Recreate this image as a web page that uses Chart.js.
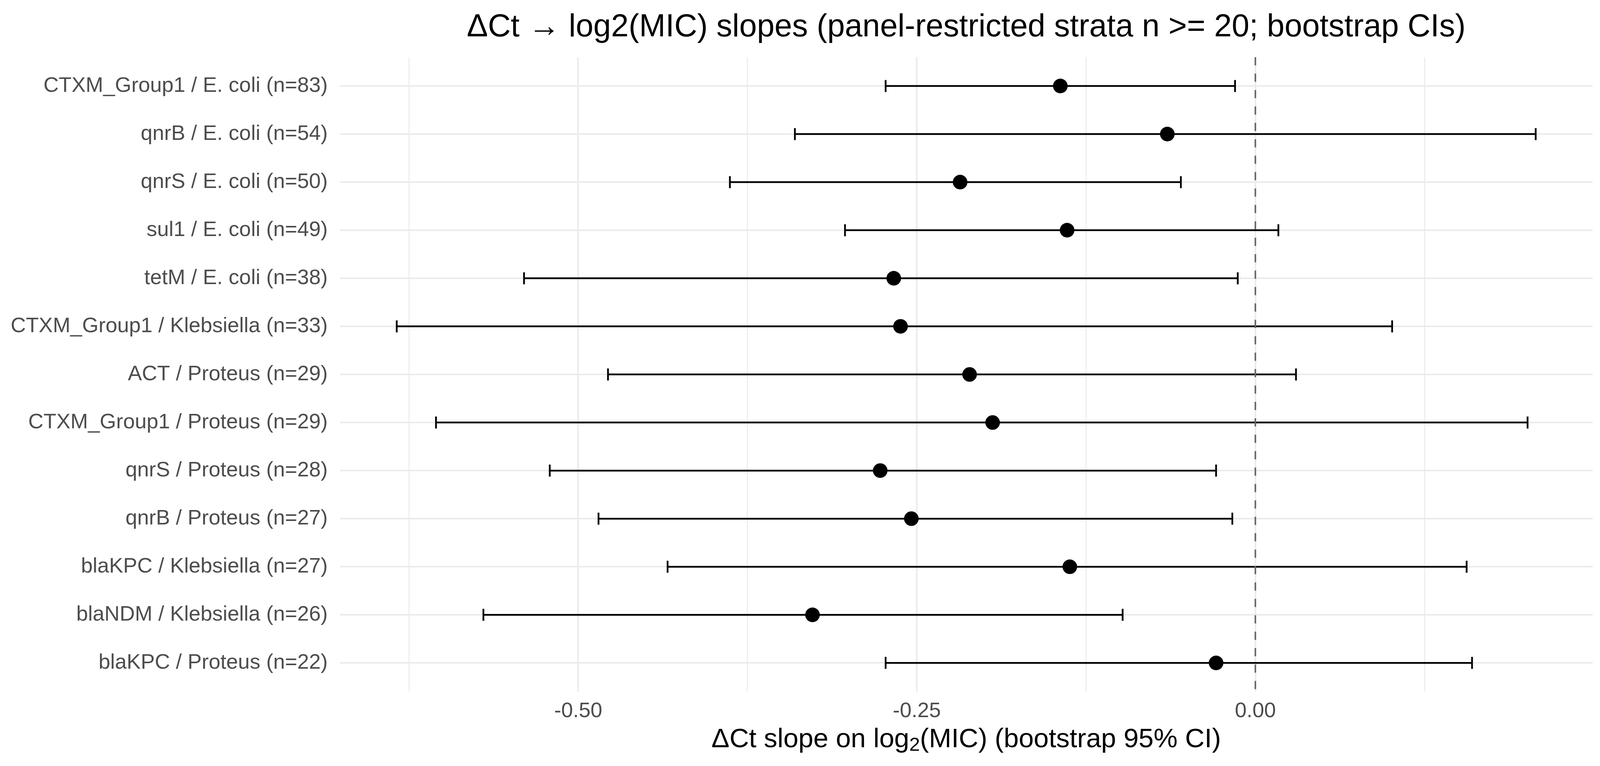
<!DOCTYPE html>
<html lang="en">
<head>
  <meta charset="UTF-8">
  <title>ΔCt → log2(MIC) slopes</title>
  <script src="https://cdn.jsdelivr.net/npm/chart.js"></script>
  <style>
    html, body { margin: 0; padding: 0; background: #fff; }
    #wrap { width: 4110px; height: 1960px; }
  </style>
</head>
<body>
  <div id="wrap"><canvas id="chart" width="4110" height="1960"></canvas></div>
  <script>
    // strata, top to bottom
    const strata = [
      'CTXM_Group1 / E. coli (n=83)',
      'qnrB / E. coli (n=54)',
      'qnrS / E. coli (n=50)',
      'sul1 / E. coli (n=49)',
      'tetM / E. coli (n=38)',
      'CTXM_Group1 / Klebsiella (n=33)',
      'ACT / Proteus (n=29)',
      'CTXM_Group1 / Proteus (n=29)',
      'qnrS / Proteus (n=28)',
      'qnrB / Proteus (n=27)',
      'blaKPC / Klebsiella (n=27)',
      'blaNDM / Klebsiella (n=26)',
      'blaKPC / Proteus (n=22)'
    ];
    const slope  = [-0.144, -0.065, -0.218, -0.139, -0.267, -0.262, -0.211, -0.194, -0.277, -0.254, -0.137, -0.327, -0.029];
    const ciLow  = [-0.273, -0.340, -0.388, -0.303, -0.540, -0.634, -0.478, -0.605, -0.521, -0.485, -0.434, -0.570, -0.273];
    const ciHigh = [-0.015,  0.207, -0.055,  0.017, -0.013,  0.101,  0.030,  0.201, -0.029, -0.017,  0.156, -0.098,  0.160];

    const xMajorTicks = [-0.5, -0.25, 0];
    const xMinorTicks = [-0.625, -0.375, -0.125, 0.125];
    const refLine = 0;

    const FONT = '"Liberation Sans", Arial, Helvetica, sans-serif';
    const GRID = '#ebebeb';

    const errorBars = {
      id: 'errorBars',
      beforeDatasetsDraw(chart) {
        const { ctx, chartArea, scales: { x, y } } = chart;
        const half = (y.getPixelForValue(1) - y.getPixelForValue(0)) * 0.125;
        ctx.save();
        ctx.strokeStyle = '#000';
        ctx.lineWidth = 4.5;
        ctx.lineCap = 'butt';
        strata.forEach((s, i) => {
          const py = y.getPixelForValue(i);
          const a = x.getPixelForValue(ciLow[i]);
          const b = x.getPixelForValue(ciHigh[i]);
          ctx.beginPath();
          ctx.moveTo(a, py); ctx.lineTo(b, py);
          ctx.moveTo(a, py - half); ctx.lineTo(a, py + half);
          ctx.moveTo(b, py - half); ctx.lineTo(b, py + half);
          ctx.stroke();
        });
        // dashed reference line at 0
        const x0 = x.getPixelForValue(refLine);
        ctx.strokeStyle = '#666';
        ctx.lineWidth = 4;
        ctx.setLineDash([21, 21]);
        ctx.beginPath();
        ctx.moveTo(x0, chartArea.top);
        ctx.lineTo(x0, chartArea.bottom);
        ctx.stroke();
        ctx.restore();
      }
    };

    // x-axis title with a real subscript, centred on the panel
    const xTitle = {
      id: 'xTitle',
      afterDraw(chart) {
        const { ctx, chartArea } = chart;
        const size = 69, sub = 49;
        const parts = [
          { t: 'ΔCt slope on log', f: size, dy: 0 },
          { t: '2', f: sub, dy: 14 },
          { t: '(MIC) (bootstrap 95% CI)', f: size, dy: 0 }
        ];
        ctx.save();
        ctx.fillStyle = '#000';
        ctx.textBaseline = 'middle';
        ctx.textAlign = 'left';
        let w = 0;
        parts.forEach(p => { ctx.font = p.f + 'px ' + FONT; p.w = ctx.measureText(p.t).width; w += p.w; });
        let x = (chartArea.left + chartArea.right) / 2 - w / 2;
        const y = 1893;
        parts.forEach(p => {
          ctx.font = p.f + 'px ' + FONT;
          ctx.fillText(p.t, x, y + p.dy);
          x += p.w;
        });
        ctx.restore();
      }
    };

    new Chart(document.getElementById('chart').getContext('2d'), {
      type: 'scatter',
      data: {
        datasets: [{
          data: strata.map((s, i) => ({ x: slope[i], y: i })),
          pointRadius: 18.7,
          pointHoverRadius: 18.7,
          backgroundColor: '#000',
          borderWidth: 0
        }]
      },
      options: {
        responsive: false,
        devicePixelRatio: 1,
        animation: false,
        events: [],
        layout: { padding: { left: 0, right: 33, top: 0, bottom: 0 } },
        plugins: {
          legend: { display: false },
          tooltip: { enabled: false },
          title: {
            display: true,
            fullSize: false,
            text: 'ΔCt → log2(MIC) slopes (panel-restricted strata n >= 20; bootstrap CIs)',
            color: '#000',
            font: { family: FONT, size: 81, weight: 'normal', lineHeight: 1.2 },
            padding: { top: 22, bottom: 27 }
          }
        },
        scales: {
          x: {
            type: 'linear',
            min: -0.676,
            max: 0.249,
            afterBuildTicks: s => {
              s.ticks = [...xMinorTicks, ...xMajorTicks].sort((a, b) => a - b).map(v => ({ value: v }));
            },
            afterFit: s => { s.height = 190; },
            border: { display: false },
            grid: {
              drawTicks: false,
              color: GRID,
              lineWidth: c => (c.tick && xMajorTicks.includes(c.tick.value)) ? 4 : 2.5
            },
            ticks: {
              padding: 18,
              color: '#4d4d4d',
              autoSkip: false,
              maxRotation: 0,
              font: { family: FONT, size: 54, lineHeight: 1.2 },
              callback: v => xMajorTicks.includes(v) ? v.toFixed(2) : ''
            },
            title: { display: false }
          },
          y: {
            type: 'linear',
            reverse: true,
            min: -0.6,
            max: strata.length - 0.4,
            afterBuildTicks: s => {
              s.ticks = strata.map((_, i) => ({ value: i }));
            },
            afterFit: s => { s.width = 870; },
            border: { display: false },
            grid: { drawTicks: false, color: GRID, lineWidth: 4 },
            ticks: {
              padding: 31,
              color: '#4d4d4d',
              autoSkip: false,
              font: { family: FONT, size: 54, lineHeight: 1.2 },
              callback: v => strata[v]
            }
          }
        }
      },
      plugins: [errorBars, xTitle]
    });
  </script>
</body>
</html>
